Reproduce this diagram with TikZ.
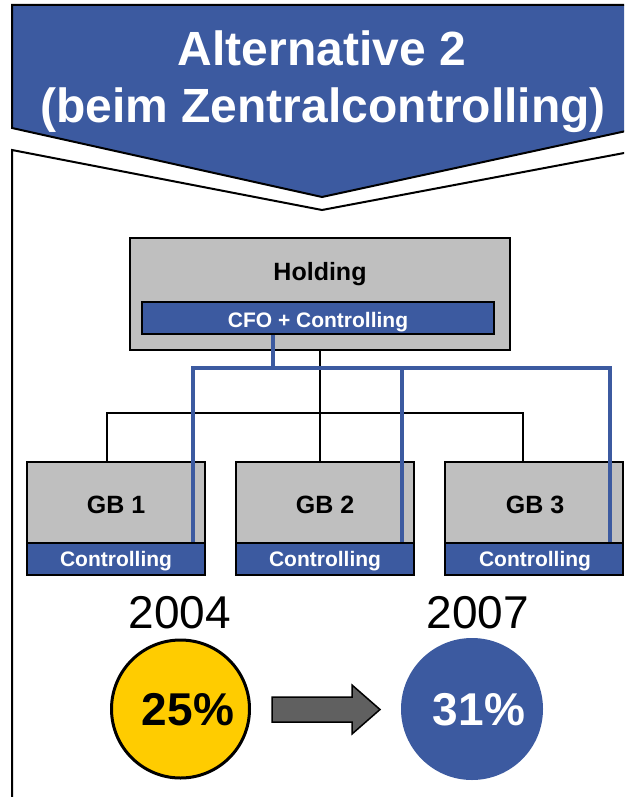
\documentclass[tikz,border=0pt]{standalone}
\usepackage{fontspec}
\setmainfont{Liberation Sans}
\usetikzlibrary{calc}
\definecolor{hdrblue}{HTML}{3C5AA0}
\definecolor{boxgray}{HTML}{BFBFBF}
\definecolor{gold}{HTML}{FFCC00}
\definecolor{arrowgray}{HTML}{606060}
\begin{document}
\begin{tikzpicture}[x=1pt,y=-1pt,
  unitbox/.style={draw=black,line width=2.2pt,fill=boxgray,inner sep=0pt,rectangle},
  ctrlbar/.style={draw=black,line width=2.2pt,fill=hdrblue,inner sep=0pt,rectangle},
  titletext/.style={text=white,font=\fontsize{48}{48}\selectfont\bfseries,anchor=base,inner sep=0pt},
  bartext/.style={text=white,font=\fontsize{21}{21}\selectfont\bfseries,anchor=base,inner sep=0pt},
  unittext/.style={text=black,font=\fontsize{25}{25}\selectfont\bfseries,anchor=base,inner sep=0pt},
  yeartext/.style={text=black,font=\fontsize{46}{46}\selectfont,anchor=base,inner sep=0pt},
  pcttext/.style={font=\fontsize{46}{46}\selectfont\bfseries,anchor=base,inner sep=0pt},
  treeline/.style={draw=black,line width=2pt},
  ctrlline/.style={draw=hdrblue,line width=4pt}]
\useasboundingbox (0,0) rectangle (624,797);
\clip (0,0) rectangle (624,797);
\fill[white] (0,0) rectangle (624,797);

% page body below the heading
\draw[line width=2pt,fill=white] (12,820) -- (12,150) -- (322,210) -- (640,150) -- (640,820) -- cycle;

% heading chevron
\draw[line width=2pt,fill=hdrblue] (12,5) -- (640,5) -- (640,128) -- (322,197) -- (12,128) -- cycle;
\node[titletext] (title1) at (322,66) {Alternative 2};
\node[titletext] (title2) at (323,123) {(beim Zentralcontrolling)};

% holding
\node[unitbox,minimum width=380pt,minimum height=112pt] (holding) at (320,294) {};
\node[unittext] (holdingtxt) at (320,280) {Holding};
\node[ctrlbar,minimum width=352pt,minimum height=32pt] (cfo) at (318,318) {};
\node[bartext] (cfotxt) at (318,327) {CFO + Controlling};

% business units
\node[unitbox,minimum width=178pt,minimum height=113pt] (gb1) at (116,518.5) {};
\node[unitbox,minimum width=178pt,minimum height=113pt] (gb2) at (325,518.5) {};
\node[unitbox,minimum width=178pt,minimum height=113pt] (gb3) at (534,518.5) {};
\node[ctrlbar,minimum width=178pt,minimum height=32pt] (gb1c) at (116,559) {};
\node[ctrlbar,minimum width=178pt,minimum height=32pt] (gb2c) at (325,559) {};
\node[ctrlbar,minimum width=178pt,minimum height=32pt] (gb3c) at (534,559) {};
\node[unittext] (gb1t) at (116,513) {GB 1};
\node[unittext] (gb2t) at (325,513) {GB 2};
\node[unittext] (gb3t) at (535,513) {GB 3};
\node[bartext] (gb1ct) at (116,566) {Controlling};
\node[bartext] (gb2ct) at (325,566) {Controlling};
\node[bartext] (gb3ct) at (535,566) {Controlling};

% reporting tree
\coordinate (tj) at (320,413);
\coordinate (tl) at (107,413);
\coordinate (tr) at (523,413);
\draw[treeline] (holding.south) -- (tj);
\draw[treeline] (gb1.north -| tl) -- (tl) -- (tr) -- (gb3.north -| tr);
\draw[treeline] (tj) -- (gb2.north -| tj);

% controlling lines
\coordinate (bt) at (273,368);
\coordinate (bl) at (193,368);
\coordinate (bm) at (402,368);
\coordinate (br) at (610,368);
\draw[ctrlline] (cfo.south -| bt) -- (bt);
\draw[ctrlline] (gb1c.north -| bl) -- (bl) -- (br) -- (gb3c.north -| br);
\draw[ctrlline] (bm) -- (gb2c.north -| bm);

% share of controlling
\node[yeartext] (y04) at (180,628) {2004};
\node[yeartext] (y07) at (478,628) {2007};
\node[circle,draw=black,line width=3pt,fill=gold,minimum size=138pt,inner sep=0pt] (c04) at (180.5,709) {};
\node[circle,fill=hdrblue,minimum size=142pt,inner sep=0pt] (c07) at (472,709) {};
\node[pcttext,text=black] (p04) at (188,725) {25\%};
\node[pcttext,text=white] (p07) at (479,725) {31\%};

% change arrow
\draw[line width=1.5pt,fill=arrowgray] (272,697) -- (352,697) -- (352,685) -- (380,709.5) -- (352,734) -- (352,722) -- (272,722) -- cycle;
\end{tikzpicture}
\end{document}
